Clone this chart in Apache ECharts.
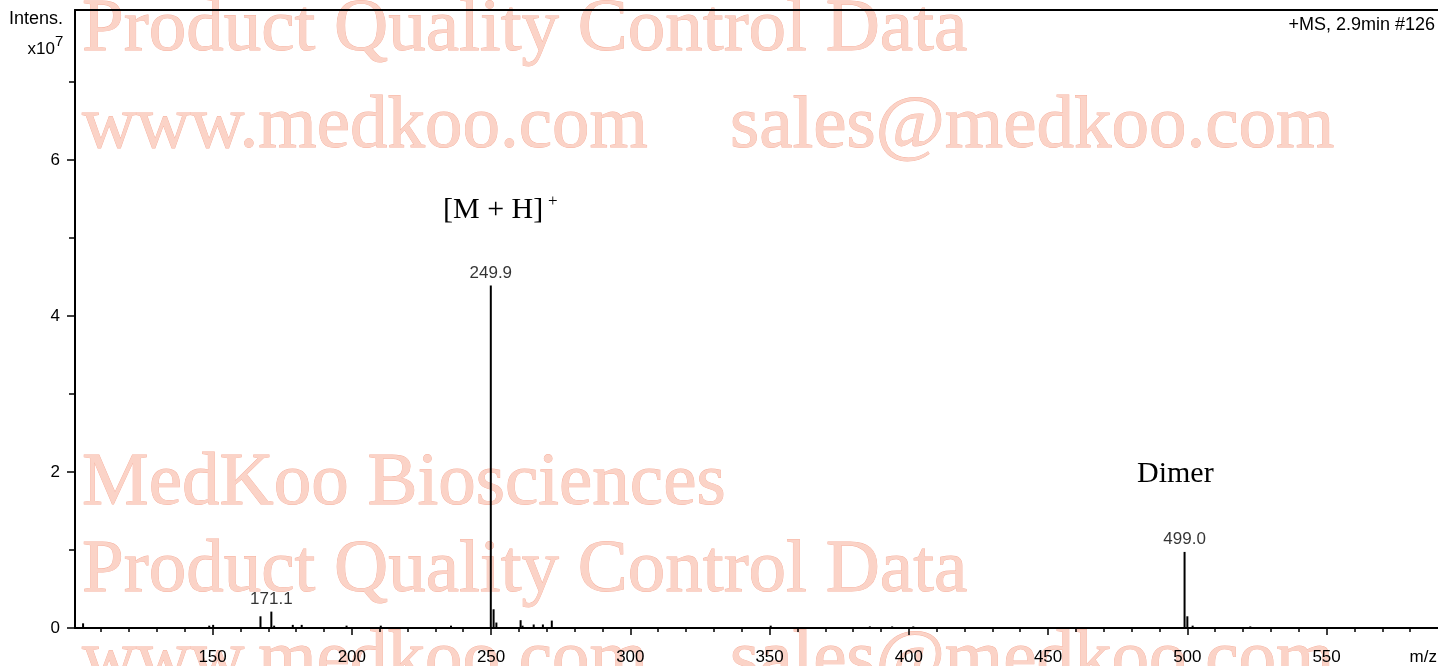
<!DOCTYPE html>
<html>
<head>
<meta charset="utf-8">
<title>MS spectrum</title>
<script src="https://cdn.jsdelivr.net/npm/echarts@6/dist/echarts.min.js"></script>
<style>
html, body { margin: 0; padding: 0; background: #fff; }
#chartMS { width: 1438px; height: 666px; }
</style>
</head>
<body>
<div id="chartMS"></div>
<script>
// peaks: m/z and intensity (x10^7)
var peakMz  = [103.5, 148.8, 150.2, 167.2, 171.1, 172.1, 178.8, 182.0, 198.1, 210.4, 235.6,
               249.9, 250.9, 251.9, 260.6, 261.3, 265.3, 268.6, 271.8, 350.4, 386.0, 394.0, 401.6,
               499.0, 500.0, 501.9, 522.6];
var peakInt = [0.06, 0.03, 0.04, 0.15, 0.21, 0.03, 0.04, 0.04, 0.03, 0.03, 0.03,
               4.39, 0.24, 0.07, 0.10, 0.03, 0.045, 0.045, 0.095, 0.03, 0.02, 0.02, 0.02,
               0.975, 0.15, 0.03, 0.02];

// labelled peaks
var labelMz   = [171.1, 249.9, 499.0];
var labelInt  = [0.21, 4.39, 0.975];
var labelText = ['171.1', '249.9', '499.0'];

// ticks
var xMajorTicks = [150, 200, 250, 300, 350, 400, 450, 500, 550];
var xMinorTicks = [110, 120, 130, 140, 160, 170, 180, 190, 210, 220, 230, 240,
                   260, 270, 280, 290, 310, 320, 330, 340, 360, 370, 380, 390,
                   410, 420, 430, 440, 460, 470, 480, 490, 510, 520, 530, 540,
                   560, 570, 580];
var yMajorTicks = [0, 2, 4, 6];
var yMinorTicks = [1, 3, 5, 7];

var sans = '"Liberation Sans", Arial, Helvetica, sans-serif';
var serif = '"Liberation Serif", "Times New Roman", serif';

var spectrum = [];
for (var i = 0; i < peakMz.length; i++) spectrum.push([peakMz[i], peakInt[i]]);
var labelled = [];
for (var j = 0; j < labelMz.length; j++) labelled.push([labelMz[j], labelInt[j]]);

// watermark line
function wm(text, x, y) {
    return {
        type: 'text', z: -10, silent: true,
        style: {
            text: text, x: x, y: y, font: '75px ' + serif, verticalAlign: 'middle',
            fill: '#fbd3c7', stroke: '#f6b09e', lineWidth: 0.8
        }
    };
}

var myChart = echarts.init(document.getElementById('chartMS'));
var option = {
    animation: false,
    backgroundColor: '#fff',
    grid: { left: 75, top: 10, right: 0, bottom: 38, containLabel: false },
    xAxis: [
        {
            type: 'value', min: 100.6, max: 590, position: 'bottom',
            axisLine: { show: true, onZero: false, lineStyle: { color: '#000', width: 2 } },
            axisTick: { show: true, length: 7, customValues: xMajorTicks, lineStyle: { color: '#000', width: 1.5 } },
            axisLabel: { show: true, customValues: xMajorTicks, margin: 21, color: '#000', fontSize: 17, fontFamily: sans },
            splitLine: { show: false }
        },
        {
            type: 'value', min: 100.6, max: 590, position: 'bottom',
            axisLine: { show: false },
            axisTick: { show: true, length: 4, customValues: xMinorTicks, lineStyle: { color: '#000', width: 1.5 } },
            axisLabel: { show: false },
            splitLine: { show: false }
        },
        {
            type: 'value', min: 100.6, max: 590, position: 'top',
            axisLine: { show: true, onZero: false, lineStyle: { color: '#000', width: 2 } },
            axisTick: { show: false },
            axisLabel: { show: false },
            splitLine: { show: false }
        }
    ],
    yAxis: [
        {
            type: 'value', min: 0, max: 7.92,
            axisLine: { show: true, onZero: false, lineStyle: { color: '#000', width: 2 } },
            axisTick: { show: true, length: 8, customValues: yMajorTicks, lineStyle: { color: '#000', width: 1.5 } },
            axisLabel: { show: true, customValues: yMajorTicks, margin: 15, color: '#000', fontSize: 17, fontFamily: sans },
            splitLine: { show: false }
        },
        {
            type: 'value', min: 0, max: 7.92, position: 'left',
            axisLine: { show: false },
            axisTick: { show: true, length: 6, customValues: yMinorTicks, lineStyle: { color: '#000', width: 1.5 } },
            axisLabel: { show: false },
            splitLine: { show: false }
        }
    ],
    graphic: [
        wm('Product Quality Control Data', 82, 30),
        wm('www.medkoo.com', 82, 127),
        wm('sales@medkoo.com', 730, 127),
        wm('MedKoo Biosciences', 82, 484),
        wm('Product Quality Control Data', 82, 571),
        wm('www.medkoo.com', 82, 661),
        wm('sales@medkoo.com', 730, 661),
        { type: 'text', style: { text: 'Intens.', x: 63, y: 19, align: 'right', verticalAlign: 'middle', fill: '#000', font: '18px ' + sans } },
        { type: 'text', style: { text: 'x10', x: 55, y: 49, align: 'right', verticalAlign: 'middle', fill: '#000', font: '17px ' + sans } },
        { type: 'text', style: { text: '7', x: 55, y: 42, align: 'left', verticalAlign: 'middle', fill: '#000', font: '15px ' + sans } },
        { type: 'text', style: { text: '+MS, 2.9min #126', x: 1435, y: 25, align: 'right', verticalAlign: 'middle', fill: '#000', font: '18px ' + sans } },
        { type: 'text', style: { text: 'm/z', x: 1437, y: 657, align: 'right', verticalAlign: 'middle', fill: '#000', font: '17px ' + sans } },
        { type: 'text', style: { text: '[M + H]', x: 443, y: 210, align: 'left', verticalAlign: 'middle', fill: '#000', font: '30px ' + serif } },
        { type: 'text', style: { text: '+', x: 548, y: 202, align: 'left', verticalAlign: 'middle', fill: '#000', font: '17px ' + serif } },
        { type: 'text', style: { text: 'Dimer', x: 1137, y: 474, align: 'left', verticalAlign: 'middle', fill: '#000', font: '30px ' + serif } }
    ],
    series: [
        {
            name: 'spectrum',
            type: 'custom',
            xAxisIndex: 0, yAxisIndex: 0,
            encode: { x: 0, y: 1 },
            data: spectrum,
            renderItem: function (params, api) {
                var base = api.coord([api.value(0), 0]);
                var top = api.coord([api.value(0), api.value(1)]);
                return {
                    type: 'line',
                    shape: { x1: base[0], y1: base[1], x2: top[0], y2: top[1] },
                    style: { stroke: '#000', lineWidth: 2 }
                };
            },
            z: 3
        },
        {
            name: 'labels',
            type: 'scatter',
            xAxisIndex: 0, yAxisIndex: 0,
            symbolSize: 0,
            data: labelled,
            label: {
                show: true, position: 'top', distance: 4,
                color: '#000', fontSize: 17, fontFamily: sans,
                formatter: function (p) { return labelText[p.dataIndex]; }
            },
            z: 4
        }
    ]
};
myChart.setOption(option);
</script>
</body>
</html>
